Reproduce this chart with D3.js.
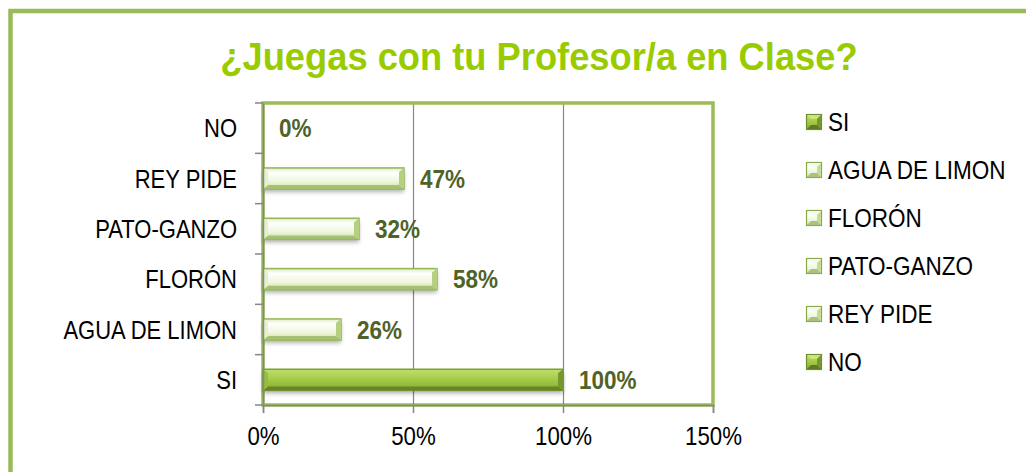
<!DOCTYPE html>
<html>
<head>
<meta charset="utf-8">
<script src="https://d3js.org/d3.v7.min.js"></script>
<style>
  html, body { margin: 0; padding: 0; background: #fff; }
  svg { display: block; }
  text { font-family: "Liberation Sans", Arial, sans-serif; }
</style>
</head>
<body>
<svg id="chart"></svg>
<script>
// data, bottom row first (as in the spreadsheet)
const categories = ['SI', 'AGUA DE LIMON', 'FLORÓN', 'PATO-GANZO', 'REY PIDE', 'NO']
const values = [1.00, 0.26, 0.58, 0.32, 0.47, 0.00]
const darkBars = ['SI', 'NO']
const xTicks = [0, 0.5, 1.0, 1.5]
const title = '¿Juegas con tu Profesor/a en Clase?'

const width = 1026, height = 472
const plot = {left: 263, right: 713, top: 103, bottom: 405}

// no Arial Narrow here, so squeeze the normal face a bit
function squeeze(sel, k) {
  sel.each(function() {
    let w = this.getComputedTextLength()
    d3.select(this)
      .attr('textLength', w * k)
      .attr('lengthAdjust', 'spacingAndGlyphs')
  })
}

const svg = d3.select('#chart')
    .attr('width', width)
    .attr('height', height)

let defs = svg.append('defs')

let lightGrad = defs.append('linearGradient')
    .attr('id', 'lightGrad')
    .attr('x1', 0).attr('y1', 0).attr('x2', 0).attr('y2', 1)
lightGrad.append('stop').attr('offset', '0%').attr('stop-color', '#dcebbd')
lightGrad.append('stop').attr('offset', '22%').attr('stop-color', '#ffffff')
lightGrad.append('stop').attr('offset', '65%').attr('stop-color', '#eef6dc')
lightGrad.append('stop').attr('offset', '100%').attr('stop-color', '#c9e09a')

let darkGrad = defs.append('linearGradient')
    .attr('id', 'darkGrad')
    .attr('x1', 0).attr('y1', 0).attr('x2', 0).attr('y2', 1)
darkGrad.append('stop').attr('offset', '0%').attr('stop-color', '#bfdf6c')
darkGrad.append('stop').attr('offset', '45%').attr('stop-color', '#a6cc48')
darkGrad.append('stop').attr('offset', '100%').attr('stop-color', '#86aa33')

let shadow = defs.append('filter')
    .attr('id', 'shadow')
    .attr('x', '-10%').attr('y', '-50%').attr('width', '120%').attr('height', '200%')
shadow.append('feGaussianBlur').attr('stdDeviation', 2)

// outer frame
svg.append('rect')
    .attr('x', 10.5)
    .attr('y', 11)
    .attr('width', 1100)
    .attr('height', 600)
    .style('fill', 'none')
    .style('stroke', '#9bbb59')
    .style('stroke-width', 4.5)

svg.append('text')
    .attr('x', 539)
    .attr('y', 70)
    .attr('text-anchor', 'middle')
    .style('font-size', '38px')
    .style('font-weight', 'bold')
    .style('fill', '#99cc00')
    .text(title)
    .call(squeeze, 0.955)

const x = d3.scaleLinear()
    .domain([0, 1.5])
    .range([plot.left, plot.right])

const y = d3.scaleBand()
    .domain(categories.slice().reverse())
    .range([plot.top, plot.bottom])
    .paddingInner(0.58)
    .paddingOuter(0.29)

// plot area frame
svg.append('rect')
    .attr('x', plot.left)
    .attr('y', plot.top)
    .attr('width', plot.right - plot.left)
    .attr('height', plot.bottom - plot.top)
    .style('fill', '#fff')
    .style('stroke', '#9bbb59')
    .style('stroke-width', 3.5)

// gridlines
svg.append('g')
    .selectAll('line')
    .data(xTicks.filter(d => d > 0 && d < 1.5))
    .enter().append('line')
    .attr('x1', d => x(d) + 0.5)
    .attr('x2', d => x(d) + 0.5)
    .attr('y1', plot.top + 1.5)
    .attr('y2', plot.bottom)
    .style('stroke', '#868686')
    .style('stroke-width', 1.2)

// bars
const rows = categories.map((c, i) => ({cat: c, value: values[i], dark: darkBars.includes(c)}))
const bars = svg.append('g')
    .selectAll('g')
    .data(rows)
    .enter().append('g')

const bh = y.bandwidth()

bars.append('rect')
    .attr('x', plot.left)
    .attr('y', d => y(d.cat) + 3)
    .attr('width', d => x(d.value) - plot.left)
    .attr('height', bh)
    .attr('filter', 'url(#shadow)')
    .style('fill', '#000')
    .style('opacity', d => d.value > 0 ? 0.3 : 0)

bars.append('rect')
    .attr('x', plot.left)
    .attr('y', d => y(d.cat))
    .attr('width', d => x(d.value) - plot.left)
    .attr('height', bh)
    .style('fill', d => d.dark ? 'url(#darkGrad)' : 'url(#lightGrad)')
    .style('stroke', d => d.dark ? '#7f9f38' : '#95b757')
    .style('stroke-width', d => d.value > 0 ? 1.5 : 0)

// bevel: bottom edge, right cap, left cap
bars.filter(d => d.value > 0).append('path')
    .attr('d', d => {
      let x0 = plot.left, x1 = x(d.value), y0 = y(d.cat), y1 = y0 + bh, b = 5
      return 'M' + x0 + ',' + y1 + 'L' + x1 + ',' + y1 + 'L' + (x1 - b) + ',' + (y1 - 4) +
             'L' + (x0 + b) + ',' + (y1 - 4) + 'Z'
    })
    .style('fill', d => d.dark ? '#647f26' : '#a0bd6c')
    .style('opacity', 0.9)

bars.filter(d => d.value > 0).append('path')
    .attr('d', d => {
      let x1 = x(d.value), y0 = y(d.cat), y1 = y0 + bh, b = 5
      return 'M' + x1 + ',' + y0 + 'L' + x1 + ',' + y1 + 'L' + (x1 - b) + ',' + (y1 - 4) +
             'L' + (x1 - b) + ',' + (y0 + 4) + 'Z'
    })
    .style('fill', d => d.dark ? '#76962f' : '#b5d081')

bars.filter(d => d.value > 0).append('path')
    .attr('d', d => {
      let x0 = plot.left, y0 = y(d.cat), y1 = y0 + bh, b = 5
      return 'M' + x0 + ',' + y0 + 'L' + (x0 + b) + ',' + (y0 + 4) + 'L' + (x0 + b) + ',' + (y1 - 4) +
             'L' + x0 + ',' + y1 + 'Z'
    })
    .style('fill', d => d.dark ? '#95bd3e' : '#e6f0cf')

// value labels
bars.append('text')
    .attr('x', d => x(d.value) + 16)
    .attr('y', d => y(d.cat) + bh / 2)
    .attr('dy', '0.36em')
    .style('font-size', '25px')
    .style('font-weight', 'bold')
    .style('fill', '#4f6228')
    .text(d => d3.format('.0%')(d.value))
    .call(squeeze, 0.9)

// axes
const step = y.step()
const yAxis = svg.append('g')
    .attr('transform', 'translate(' + plot.left + ',0)')
    .call(d3.axisLeft(y).tickSize(0).tickPadding(26))
yAxis.select('.domain').style('stroke', '#868686').style('stroke-width', 1.5)
yAxis.selectAll('text')
    .attr('dy', '0.36em')
    .style('font-family', '"Liberation Sans", Arial, sans-serif')
    .style('font-size', '25px')
    .style('fill', '#000')
    .call(squeeze, 0.88)

const bounds = d3.range(categories.length + 1).map(i => plot.top + i * step)
yAxis.selectAll('.bound')
    .data(bounds)
    .enter().append('line')
    .attr('class', 'bound')
    .attr('x1', -8).attr('x2', 0)
    .attr('y1', d => d).attr('y2', d => d)
    .style('stroke', '#868686')
    .style('stroke-width', 1.5)

const xAxis = svg.append('g')
    .attr('transform', 'translate(0,' + plot.bottom + ')')
    .call(d3.axisBottom(x).tickValues(xTicks).tickFormat(d3.format('.0%')).tickSize(8).tickPadding(14))
xAxis.select('.domain').style('stroke', '#868686').style('stroke-width', 1.5)
xAxis.selectAll('line').style('stroke', '#868686').style('stroke-width', 1.5)
xAxis.selectAll('text')
    .style('font-family', '"Liberation Sans", Arial, sans-serif')
    .style('font-size', '25px')
    .style('fill', '#000')
    .call(squeeze, 0.89)

// legend, same order as the data
const legend = svg.append('g')
    .selectAll('g')
    .data(rows)
    .enter().append('g')
    .attr('transform', (d, i) => 'translate(806,' + (114 + i * 48) + ')')

legend.append('rect')
    .attr('x', 0.5).attr('y', 0.5).attr('width', 15).attr('height', 15)
    .style('fill', d => d.dark ? 'url(#darkGrad)' : 'url(#lightGrad)')
    .style('stroke', d => d.dark ? '#6f8f2d' : '#8aab4a')
    .style('stroke-width', 1.2)

legend.append('path')
    .attr('d', 'M1,1L15,1L11,5L5,5Z')
    .style('fill', d => d.dark ? '#c8e67e' : '#f6faec')
legend.append('path')
    .attr('d', 'M1,15L15,15L11,11L5,11Z')
    .style('fill', d => d.dark ? '#5f7a24' : '#a9c47a')
legend.append('path')
    .attr('d', 'M15,1L15,15L11,11L11,5Z')
    .style('fill', d => d.dark ? '#76962f' : '#c4dc96')

legend.append('text')
    .attr('x', 22)
    .attr('y', 8)
    .attr('dy', '0.36em')
    .style('font-size', '25px')
    .style('fill', '#000')
    .text(d => d.cat)
    .call(squeeze, 0.9)
</script>
</body>
</html>
